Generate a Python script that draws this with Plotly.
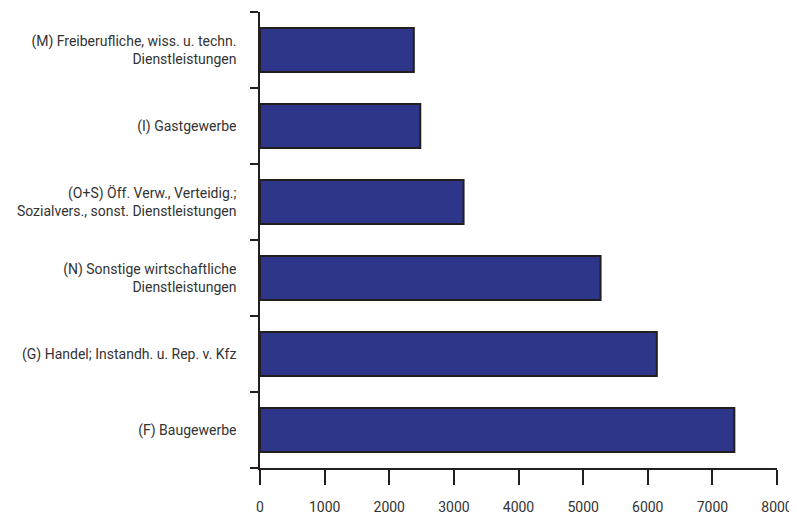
import plotly.graph_objects as go

# Categories listed bottom to top, as plotly draws horizontal categories
categories = [
    "(F) Baugewerbe",
    "(G) Handel; Instandh. u. Rep. v. Kfz",
    "(N) Sonstige wirtschaftliche<br>Dienstleistungen",
    "(O+S) Öff. Verw., Verteidig.;<br>Sozialvers., sonst. Dienstleistungen",
    "(I) Gastgewerbe",
    "(M) Freiberufliche, wiss. u. techn.<br>Dienstleistungen",
]
values = [7340, 6140, 5270, 3150, 2480, 2380]
x_ticks = [0, 1000, 2000, 3000, 4000, 5000, 6000, 7000, 8000]

FONT = "Roboto, Arial, sans-serif"
TEXT = "#333333"
LINE = "#231f20"

fig = go.Figure(
    go.Bar(
        x=values,
        y=categories,
        orientation="h",
        marker={"color": "#2e3689", "line": {"color": LINE, "width": 2}},
        hovertemplate="%{y}: %{x}<extra></extra>",
    )
)

# the page body adds an 8px offset, so the figure is 8px smaller each way
fig.update_layout(
    width=789,
    height=507,
    margin={"l": 252, "r": 20, "t": 4, "b": 47},
    plot_bgcolor="white",
    paper_bgcolor="white",
    bargap=0.42,
    showlegend=False,
    font={"family": FONT, "size": 14, "color": TEXT},
)
fig.update_xaxes(
    range=[0, 8000],
    tickvals=x_ticks,
    ticks="outside",
    ticklen=15,
    tickwidth=1.5,
    tickcolor=LINE,
    showline=True,
    linecolor=LINE,
    linewidth=1.5,
    showgrid=False,
    zeroline=False,
    automargin=False,
    ticklabelstandoff=10,
)
fig.update_yaxes(
    type="category",
    categoryorder="array",
    categoryarray=categories,
    tickson="boundaries",
    ticks="outside",
    ticklen=8,
    tickwidth=1.5,
    tickcolor=LINE,
    showline=True,
    linecolor=LINE,
    linewidth=1.5,
    showgrid=False,
    automargin=False,
    ticklabelstandoff=19,
)

fig.write_html("out.html")
